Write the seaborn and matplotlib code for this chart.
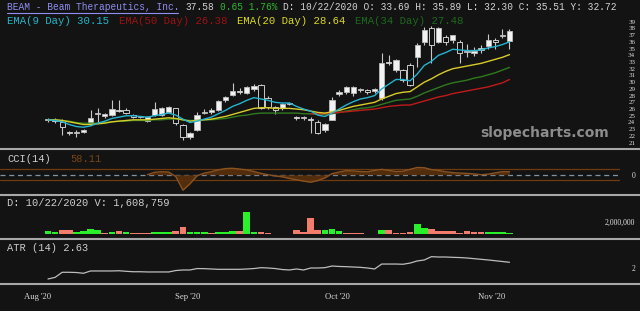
import numpy as np
import pandas as pd
import matplotlib
matplotlib.use("Agg")
import matplotlib.pyplot as plt
import seaborn as sns
from matplotlib.lines import Line2D
from matplotlib.transforms import blended_transform_factory

# ---------------- data ----------------
opens = [24.3, 24.4, 24.1, 22.6, 22.4, 22.6, 23.8, 25.2, 24.9, 25.1,
         25.9, 25.9, 25.1, 24.8, 24.2, 25.1, 25.1, 25.6, 26.1, 23.6,
         21.8, 22.9, 25.4, 25.6, 25.9, 27.3, 28.1, 28.6, 28.4, 29.0,
         29.6, 27.6, 26.3, 26.1, 26.8, 24.8, 24.6, 24.5, 24.1, 22.9,
         24.4, 28.2, 28.5, 28.4, 28.8, 28.9, 28.7, 27.6, 32.9, 31.8,
         31.8, 32.5, 33.69, 36.0, 38.1, 36.0, 36.7, 36.3, 36.0, 34.5,
         34.3, 34.8, 35.4, 36.3, 36.8, 36.1]
highs = [24.6, 24.7, 24.5, 22.8, 22.9, 23.0, 25.9, 26.1, 25.4, 27.3,
         27.3, 26.2, 25.3, 25.0, 25.0, 27.0, 26.3, 26.4, 26.2, 23.8,
         22.6, 25.5, 26.0, 26.1, 27.4, 27.9, 29.9, 29.2, 29.5, 29.7,
         29.7, 27.9, 26.5, 26.9, 27.0, 25.0, 24.9, 24.8, 24.3, 23.9,
         27.8, 28.8, 29.5, 29.5, 29.1, 29.0, 29.2, 34.3, 34.0, 33.5,
         32.0, 32.8, 35.89, 38.2, 38.3, 38.2, 37.0, 37.0, 36.3, 35.7,
         35.2, 35.6, 37.1, 36.6, 37.9, 37.9]
lows = [24.1, 24.0, 22.1, 22.2, 21.8, 22.4, 23.6, 24.0, 24.7, 25.0,
        25.6, 25.3, 24.7, 24.6, 24.1, 24.9, 25.0, 25.5, 23.7, 21.4,
        21.5, 22.7, 25.2, 25.3, 25.7, 27.0, 27.9, 28.3, 28.2, 28.7,
        26.0, 26.0, 25.2, 25.9, 26.6, 24.4, 24.3, 22.4, 22.3, 22.6,
        24.3, 27.9, 28.2, 28.0, 28.5, 28.3, 28.4, 27.4, 32.5, 31.5,
        30.1, 29.5, 32.30, 35.5, 32.9, 35.8, 35.5, 35.9, 32.9, 33.7,
        33.9, 34.3, 35.0, 35.0, 36.5, 35.0]
closes = [24.5, 24.2, 23.3, 22.4, 22.5, 22.9, 24.7, 25.3, 25.3, 26.0,
          25.7, 25.4, 24.8, 24.8, 24.8, 26.0, 26.1, 26.3, 23.9, 21.8,
          22.4, 25.1, 25.6, 25.8, 27.2, 27.8, 28.7, 28.5, 29.3, 29.4,
          26.1, 26.3, 25.9, 26.8, 26.9, 24.6, 24.6, 24.3, 22.4, 23.8,
          27.3, 28.5, 29.3, 29.3, 28.9, 28.5, 29.0, 32.9, 32.8, 33.3,
          30.3, 29.6, 35.51, 37.8, 35.5, 38.1, 36.0, 37.0, 34.3, 34.6,
          34.6, 35.1, 36.3, 36.0, 36.93, 37.58]

ema9 = [24.4, 24.3, 24.1, 23.7, 23.4, 23.3, 23.5, 23.9, 24.2, 24.6,
        24.8, 25.0, 25.0, 24.9, 24.8, 25.0, 25.2, 25.4, 25.1, 24.5,
        24.0, 24.2, 24.5, 24.8, 25.3, 25.8, 26.4, 26.8, 27.3, 27.7,
        27.5, 27.3, 27.0, 26.9, 26.9, 26.4, 26.0, 25.7, 25.1, 24.9,
        25.4, 26.0, 26.6, 27.1, 27.5, 27.7, 28.0, 29.0, 29.7, 30.4,
        30.4, 30.2, 31.2, 32.5, 33.1, 34.0, 34.4, 34.9, 34.8, 34.7,
        34.7, 34.8, 35.1, 35.3, 35.6, 36.0]
ema20 = [24.4, 24.4, 24.3, 24.1, 23.9, 23.7, 23.7, 23.8, 23.9, 24.1,
         24.2, 24.3, 24.4, 24.4, 24.4, 24.5, 24.6, 24.7, 24.6, 24.4,
         24.2, 24.3, 24.4, 24.5, 24.7, 24.9, 25.2, 25.5, 25.8, 26.1,
         26.2, 26.2, 26.1, 26.1, 26.1, 26.0, 25.9, 25.7, 25.5, 25.4,
         25.6, 25.8, 26.1, 26.4, 26.6, 26.8, 27.0, 27.5, 27.9, 28.3,
         28.5, 28.6, 29.3, 30.0, 30.5, 31.1, 31.6, 32.0, 32.2, 32.4,
         32.6, 32.8, 33.1, 33.4, 33.7, 34.1]
ema34 = [24.4, 24.4, 24.3, 24.2, 24.0, 23.9, 23.9, 23.9, 24.0, 24.1,
         24.2, 24.2, 24.3, 24.3, 24.3, 24.4, 24.4, 24.5, 24.5, 24.4,
         24.3, 24.3, 24.4, 24.4, 24.5, 24.6, 24.8, 25.0, 25.1, 25.3,
         25.4, 25.4, 25.4, 25.4, 25.4, 25.4, 25.3, 25.3, 25.2, 25.2,
         25.3, 25.5, 25.7, 25.9, 26.1, 26.2, 26.4, 26.7, 27.0, 27.3,
         27.4, 27.5, 27.9, 28.4, 28.8, 29.2, 29.6, 29.9, 30.1, 30.3,
         30.6, 30.8, 31.1, 31.4, 31.8, 32.2]
ema50 = [np.nan] * 37 + [
    25.3, 25.3, 25.3, 25.4, 25.5, 25.6, 25.7, 25.8, 25.9, 26.0,
    26.2, 26.4, 26.5, 26.6, 26.6, 26.9, 27.2, 27.5, 27.8, 28.0,
    28.3, 28.5, 28.7, 28.9, 29.1, 29.3, 29.6, 29.9, 30.4]

volume_m = [0.5, 0.3, 0.6, 0.6, 0.3, 0.5, 0.8, 0.6, 0.1, 0.4,
            0.5, 0.3, 0.1, 0.1, 0.1, 0.3, 0.3, 0.3, 0.5, 1.1,
            0.3, 0.3, 0.3, 0.1, 0.4, 0.4, 0.5, 0.5, 3.6, 0.4,
            0.4, 0.2, 0.05, 0.05, 0.05, 0.6, 0.4, 2.6, 0.6, 0.7,
            0.8, 0.5, 0.2, 0.2, 0.1, 0.05, 0.05, 0.7, 0.6, 0.1,
            0.1, 0.3, 1.6, 1.0, 0.9, 0.5, 0.5, 0.5, 0.1, 0.5,
            0.4, 0.4, 0.3, 0.3, 0.3, 0.2]
volume_up = [1, 1, 0, 0, 1, 1, 1, 1, 0, 1,
             0, 1, 0, 0, 0, 1, 1, 1, 0, 0,
             1, 1, 1, 0, 1, 1, 1, 0, 1, 1,
             0, 0, 0, 0, 0, 0, 0, 0, 0, 1,
             1, 1, 0, 0, 0, 0, 0, 1, 0, 0,
             0, 0, 1, 1, 0, 0, 0, 0, 0, 0,
             0, 0, 1, 1, 1, 1]

cci = [np.nan] * 14 + [
    0, 45, 55, 50, -35, -290, -170, -20, 30, 55,
    90, 115, 120, 105, 90, 60, 25, 0, -25, -40,
    -70, -95, -120, -140, -110, -60, 20, 50, 75, 70,
    60, 55, 80, 100, 80, 60, 65, 100, 135, 130,
    95, 80, 55, 40, 30, 25, 15, 0, 10, 35,
    55, 55]

atr = [1.00, 1.15, 1.61, 1.61, 1.59, 1.52, 1.73, 1.73, 1.73, 1.73,
       1.75, 1.70, 1.66, 1.66, 1.64, 1.64, 1.64, 1.64, 1.77, 1.82,
       1.82, 1.95, 1.94, 1.91, 1.88, 1.88, 1.88, 1.88, 1.91, 1.95,
       2.03, 2.00, 1.95, 1.86, 1.82, 1.91, 1.82, 2.00, 2.00, 2.03,
       2.18, 2.14, 2.12, 2.09, 2.06, 2.00, 1.91, 2.36, 2.36, 2.36,
       2.34, 2.45, 2.64, 2.73, 3.03, 3.00, 3.00, 2.97, 2.95, 2.91,
       2.85, 2.79, 2.73, 2.66, 2.59, 2.52]

month_labels = ["Aug '20", "Sep '20", "Oct '20", "Nov '20"]
price_ticks = list(range(21, 40))

# ---------------- style ----------------
BG = "#131313"
sns.set_theme(style="dark")
plt.rcParams["font.family"] = ["DejaVu Sans"]

n = len(closes)
df = pd.DataFrame({"i": np.arange(n), "open": opens, "high": highs, "low": lows,
                   "close": closes, "ema9": ema9, "ema20": ema20, "ema34": ema34,
                   "ema50": ema50, "vol": volume_m, "up": volume_up,
                   "cci": cci, "atr": atr})

W, H = 640, 311
fig = plt.figure(figsize=(6.4, 3.11), dpi=100, facecolor=BG)

STEP = 7.1
X0 = 48
RIGHT = 620
XLIM = (-X0 / STEP, (RIGHT - X0) / STEP)


def px_axes(top, bottom, left=0, right=RIGHT):
    ax = fig.add_axes([left / W, 1 - bottom / H, (right - left) / W, (bottom - top) / H])
    ax.set_facecolor(BG)
    for s in ax.spines.values():
        s.set_visible(False)
    ax.set_xlim(*XLIM)
    ax.grid(False)
    ax.set_xticks([])
    ax.set_xlabel("")
    ax.set_ylabel("")
    return ax


def right_labels(ax, ticks, labels, size):
    ax.yaxis.tick_right()
    ax.set_yticks(ticks)
    ax.set_yticklabels(labels, family="Liberation Serif", fontsize=size, color="#e0e0e0")
    ax.tick_params(axis="y", length=0, pad=11)
    for lab in ax.get_yticklabels():
        lab.set_ha("right")

# ---------- price panel ----------
axp = px_axes(0, 147.5)
# price(y) = 39 - (y - 21.7) / 6.72
axp.set_ylim(39 - (147.5 - 21.7) / 6.72, 39 + 21.7 / 6.72)
for _, r in df.iterrows():
    up = r["close"] >= r["open"]
    axp.vlines(r["i"], r["low"], r["high"], color="#c8c8c8", lw=0.8, zorder=2)
    lo = min(r["open"], r["close"])
    h = max(abs(r["close"] - r["open"]), 0.15)
    axp.bar(r["i"], h, bottom=lo, width=0.75,
            color="#f2f2f2" if up else "#111111",
            edgecolor="#bdbdbd" if up else "#e6e6e6", lw=0.6, zorder=3)

ema_styles = [("ema34", "#2f7a1f"), ("ema50", "#c01a1a"), ("ema20", "#d8cc2a"), ("ema9", "#26b3cf")]
for col, c in ema_styles:
    sns.lineplot(data=df, x="i", y=col, color=c, lw=1.0, ax=axp, zorder=4)
axp.set_xlabel("")
axp.set_ylabel("")
right_labels(axp, price_ticks, [str(t) for t in price_ticks], 5.0)

# ---------- CCI panel ----------
axc = px_axes(150, 194)
# cci(y) = (174.7 - y) / 5.35 * 100
axc.set_ylim((174.7 - 194) / 5.35 * 100, (174.7 - 150) / 5.35 * 100)
axc.axhline(100, color="#6e3a0e", lw=0.9, zorder=1)
axc.axhline(-100, color="#6e3a0e", lw=0.9, zorder=1)
axc.axhline(0, color="#7f93a6", lw=0.9, dashes=(4, 3), zorder=2)
cc = df.dropna(subset=["cci"])
axc.fill_between(cc["i"], cc["cci"], 0, color="#5a300c", alpha=0.9, lw=0, zorder=3)
sns.lineplot(data=cc, x="i", y="cci", color="#8a5220", lw=1.0, ax=axc, zorder=4)
axc.set_xlabel("")
axc.set_ylabel("")
right_labels(axc, [0], ["0"], 5.5)

# ---------- Volume panel ----------
axv = px_axes(196, 234)
axv.set_ylim(0, 38 / 6.0)
axv.bar(df["i"], df["vol"], width=0.95,
        color=["#2af02a" if u else "#f37d6d" for u in df["up"]], lw=0, zorder=2)
right_labels(axv, [2], ["2,000,000"], 5.6)

# ---------- ATR panel ----------
axa = px_axes(240, 282)
# atr(y) = 2 + (268 - y) / 11
axa.set_ylim(2 + (268 - 282) / 11, 2 + (268 - 240) / 11)
sns.lineplot(data=df, x="i", y="atr", color="#bdbdbd", lw=0.9, ax=axa)
axa.set_xlabel("")
axa.set_ylabel("")
right_labels(axa, [2], ["2"], 5.5)
month_pos = [(38 - X0) / STEP, (188 - X0) / STEP, (337 - X0) / STEP, (492 - X0) / STEP]
trans = blended_transform_factory(axa.transData, fig.transFigure)
for p, lab in zip(month_pos, month_labels):
    axa.text(p, 1 - 297 / H, lab, transform=trans, ha="center", va="center",
             family="Liberation Serif", fontsize=6.2, color="#d8d8d8")

# ---------- separators ----------
for y in (148.5, 195, 238.5, 283.5):
    fig.add_artist(Line2D([0, 1], [1 - y / H, 1 - y / H], transform=fig.transFigure,
                          color="#a8a8a8", lw=1.5))

# ---------- header texts ----------
MONO = "Liberation Mono"


def ftext(x, y, s, color, size, **kw):
    return fig.text(x / W, 1 - y / H, s, color=color, fontsize=size, family=MONO,
                    ha="left", va="center", **kw)

ftext(7, 7.5, "BEAM - Beam Therapeutics, Inc.", "#8f8ff2", 6.85)
fig.add_artist(Line2D([7 / W, 178 / W], [1 - 13 / H, 1 - 13 / H], transform=fig.transFigure,
                      color="#8f8ff2", lw=0.8))
ftext(185, 7.5, "37.58", "#d4d4d4", 6.85)
ftext(220, 7.5, "0.65 1.76%", "#2fb82f", 6.85)
ftext(283, 7.5, "D: 10/22/2020 O: 33.69 H: 35.89 L: 32.30 C: 35.51 Y: 32.72", "#d4d4d4", 6.85)

ftext(7, 21, "EMA(9 Day) 30.15", "#22b4c8", 7.7)
ftext(119, 21, "EMA(50 Day) 26.38", "#9a1212", 7.7)
ftext(237, 21, "EMA(20 Day) 28.64", "#d8d820", 7.7)
ftext(355, 21, "EMA(34 Day) 27.48", "#1c6a1c", 7.7)

ftext(7, 158.5, "CCI(14)", "#cfcfcf", 7.5)
ftext(70, 158.5, "58.11", "#7a4512", 7.5)
ftext(7, 203, "D: 10/22/2020 V: 1,608,759", "#cfcfcf", 7.5)
ftext(7, 248, "ATR (14) 2.63", "#cfcfcf", 7.5)

fig.text(545 / W, 1 - 133 / H, "slopecharts.com", color="#8c8c8c", fontsize=10,
         fontweight="bold", ha="center", va="center", family="DejaVu Sans")

fig.savefig("out.png", dpi=100, facecolor=BG)
